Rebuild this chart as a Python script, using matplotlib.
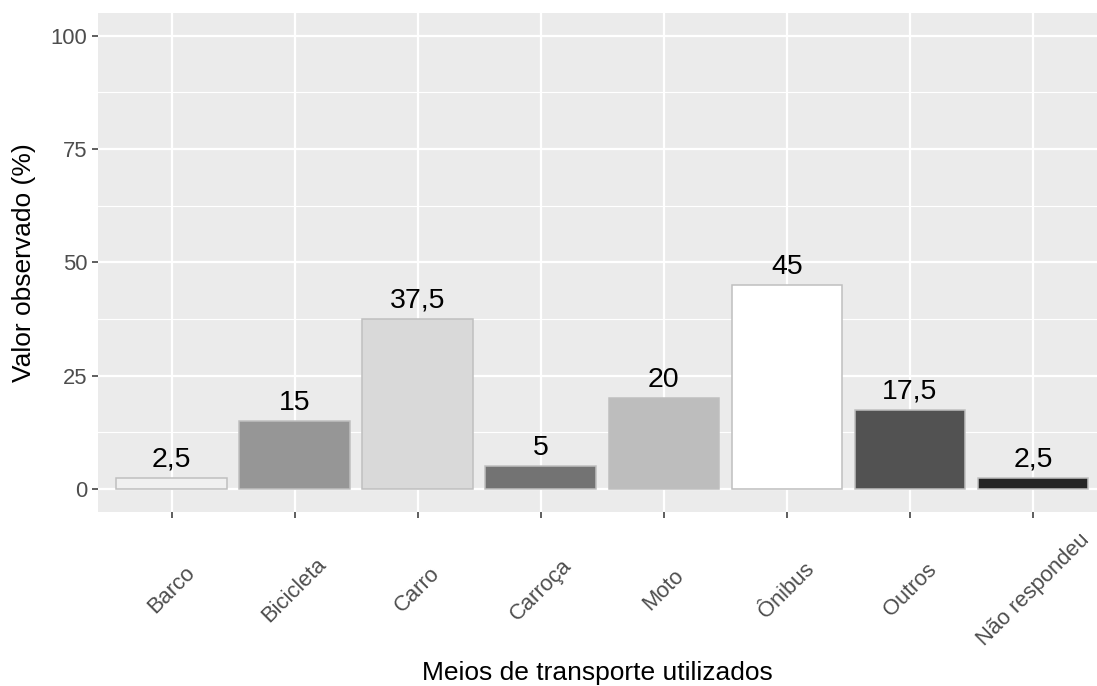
import matplotlib
matplotlib.use("Agg")
from matplotlib import pyplot as plt

categorias = ["Barco", "Bicicleta", "Carro", "Carroça", "Moto", "Ônibus", "Outros", "Não respondeu"]
valores = [2.5, 15, 37.5, 5, 20, 45, 17.5, 2.5]
rotulos = ["2,5", "15", "37,5", "5", "20", "45", "17,5", "2,5"]
cores = ["#F0F0F0", "#969696", "#D9D9D9", "#737373", "#BDBDBD", "#FFFFFF", "#525252", "#252525"]
y_ticks = [0, 25, 50, 75, 100]

plt.rcParams["font.family"] = ["Liberation Sans", "DejaVu Sans"]

fig = plt.figure(figsize=(10.97, 6.86), dpi=100)
ax = fig.add_axes([0.0892, 0.2541, 1.0 - 0.0892, 0.981 - 0.2541])
ax.set_facecolor("#EBEBEB")
for s in ax.spines.values():
    s.set_visible(False)

x = list(range(1, len(categorias) + 1))
ax.bar(x, valores, width=0.9, color=cores, edgecolor="#BFBFBF", linewidth=1.1, zorder=3)

for xi, v, r in zip(x, valores, rotulos):
    ax.annotate(r, (xi, v), xytext=(0, 8), textcoords="offset points",
                ha="center", va="baseline", fontsize=20.5, color="black", zorder=4)

ax.set_xlim(0.4, 8.52)
ax.set_ylim(-5, 105)
ax.set_xticks(x)
ax.set_xticklabels(categorias)
ax.set_yticks(y_ticks)
ax.set_yticks([12.5, 37.5, 62.5, 87.5], minor=True)

ax.grid(which="major", color="white", linewidth=1.6, zorder=0)
ax.grid(which="minor", axis="y", color="white", linewidth=0.8, zorder=0)
ax.set_axisbelow(True)

ax.tick_params(axis="both", which="major", length=4, width=1.1, color="#333333",
               labelcolor="#4D4D4D", labelsize=15.8)
ax.tick_params(axis="y", pad=3.5)
ax.tick_params(axis="x", pad=52.5)
ax.tick_params(which="minor", length=0)
for lab in ax.get_xticklabels():
    lab.set_rotation(45)
    lab.set_rotation_mode("anchor")
    lab.set_ha("center")
    lab.set_va("center")

ax.set_xlabel("Meios de transporte utilizados", fontsize=19, va="baseline")
ax.xaxis.set_label_coords(0.5, -0.3375)
ax.set_ylabel("Valor observado (%)", fontsize=19, va="center")
ax.yaxis.set_label_coords(-0.074, 0.5)

plt.savefig("out.png", dpi=100)
